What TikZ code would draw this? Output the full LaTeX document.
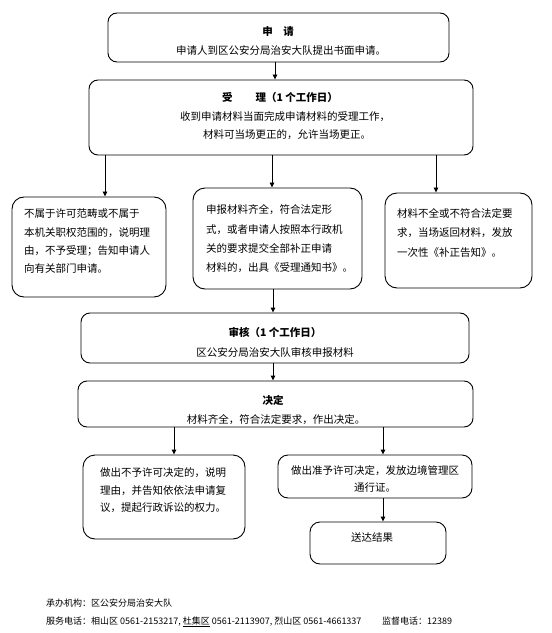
\documentclass[tikz,border=0pt]{standalone}
\usepackage{fontspec}
\setmainfont{Noto Sans CJK SC}
\usetikzlibrary{arrows.meta}
\XeTeXlinebreaklocale "zh"
\XeTeXlinebreakskip=0pt plus 1pt
\newcommand\jl[2]{\makebox[#1bp][s]{#2}}
\begin{document}
\begin{tikzpicture}[x=1bp,y=-1bp,
  box/.style={draw=black, line width=0.9bp, rounded corners=9bp, inner sep=0},
  txt/.style={font=\fontsize{10.5bp}{12bp}\selectfont, inner sep=0, anchor=base west},
  ctxt/.style={font=\fontsize{10.5bp}{12bp}\selectfont, inner sep=0, anchor=base},
  ttl/.style={font=\fontsize{10.5bp}{12bp}\selectfont\bfseries, inner sep=0, anchor=base},
  foot/.style={font=\fontsize{9bp}{11bp}\selectfont, inner sep=0, anchor=base west},
  arr/.style={-{Triangle[length=5bp,width=4.5bp]}, line width=0.9bp}]
\fill[white] (0,0) rectangle (552,633);
\useasboundingbox (0,0) rectangle (552,633);
% boxes
\node[box, minimum width=341bp, minimum height=49bp] (b1) at (278.5,37.5) {};
\node[box, minimum width=384bp, minimum height=75bp] (b2) at (281,117.5) {};
\node[box, minimum width=154bp, minimum height=100bp, rounded corners=12bp] (b3a) at (89,247) {};
\node[box, minimum width=169bp, minimum height=101bp, rounded corners=12bp] (b3b) at (277.5,238.5) {};
\node[box, minimum width=147bp, minimum height=95bp, rounded corners=12bp] (b3c) at (458.5,240.5) {};
\node[box, minimum width=388bp, minimum height=50bp] (b4) at (275,338) {};
\node[box, minimum width=395bp, minimum height=46bp] (b5) at (275.5,404) {};
\node[box, minimum width=162bp, minimum height=84bp, rounded corners=12bp] (b6a) at (164,497) {};
\node[box, minimum width=194bp, minimum height=43bp, rounded corners=10bp] (b6b) at (375,476.5) {};
\node[box, minimum width=136bp, minimum height=42bp, rounded corners=10bp] (b6c) at (378,543) {};
% texts
\node[ttl] (t1a) at (278,36) {申\hspace{1em}请};
\node[ctxt] (t1b) at (281,55) {申请人到区公安分局治安大队提出书面申请。};
\node[ttl] (t2a) at (280,102) {受\hspace{2.2em}理（1 个工作日）};
\node[ctxt] (t2b) at (285,121) {收到申请材料当面完成申请材料的受理工作，};
\node[ctxt] (t2c) at (287,139) {材料可当场更正的，允许当场更正。};
\node[txt] (t3a1) at (24,217) {\jl{134}{不属于许可范畴或不属于}};
\node[txt] (t3a2) at (24,236) {\jl{134}{本机关职权范围的，说明理}};
\node[txt] (t3a3) at (24,254) {\jl{134}{由，不予受理；告知申请人}};
\node[txt] (t3a4) at (24,272) {向有关部门申请。};
\node[txt] (t3b1) at (206,213) {\jl{146}{申报材料齐全，符合法定形}};
\node[txt] (t3b2) at (206,233) {\jl{146}{式，或者申请人按照本行政机}};
\node[txt] (t3b3) at (206,252) {\jl{146}{关的要求提交全部补正申请}};
\node[txt] (t3b4) at (206,271) {\jl{146}{材料的，出具《受理通知书》。}};
\node[txt] (t3c1) at (397,217) {\jl{123}{材料不全或不符合法定要}};
\node[txt] (t3c2) at (397,236) {\jl{123}{求，当场返回材料，发放}};
\node[txt] (t3c3) at (397,256) {一次性《补正告知》。};
\node[ttl] (t4a) at (275,336) {审核（1 个工作日）};
\node[ctxt] (t4b) at (275,356) {区公安分局治安大队审核申报材料};
\node[ttl] (t5a) at (273,404) {决定};
\node[ctxt] (t5b) at (276,423) {材料齐全，符合法定要求，作出决定。};
\node[txt] (t6a1) at (100,476) {\jl{132}{做出不予许可决定的，说明}};
\node[txt] (t6a2) at (100,494) {\jl{132}{理由，并告知依依法申请复}};
\node[txt] (t6a3) at (100,511) {议，提起行政诉讼的权力。};
\node[ctxt] (t6b1) at (375,474) {做出准予许可决定，发放边境管理区};
\node[ctxt] (t6b2) at (375,491) {通行证。};
\node[ctxt] (t6c) at (372,541) {送达结果};
% footer
\node[foot] (f1) at (46,606) {承办机构：区公安分局治安大队};
\node[foot] (f2) at (46,624) {服务电话：相山区 0561-2153217, \underline{杜集区} 0561-2113907, 烈山区 0561-4661337};
\node[foot] (f3) at (382,624) {监督电话：12389};
% arrow x positions
\coordinate (xm) at (275,0);
\coordinate (xa) at (105,0);
\coordinate (xb) at (272,0);
\coordinate (xc) at (436,0);
\coordinate (xd) at (273,0);
\coordinate (xe) at (174,0);
\coordinate (xf) at (383,0);
% connectors
\draw[arr] (b1.south -| xm) -- (b2.north -| xm);
\draw[arr] (b2.south -| xa) -- (b3a.north -| xa);
\draw[arr] (b2.south -| xb) -- (b3b.north -| xb);
\draw[arr] (b2.south -| xc) -- (b3c.north -| xc);
\draw[arr] (b3b.south -| xd) -- (b4.north -| xd);
\draw[arr] (b4.south -| xd) -- (b5.north -| xd);
\draw[arr] (b5.south -| xe) -- (b6a.north -| xe);
\draw[arr] (b5.south -| xf) -- (b6b.north -| xf);
\draw[arr] (b6b.south -| xf) -- (b6c.north -| xf);
\end{tikzpicture}
\end{document}
